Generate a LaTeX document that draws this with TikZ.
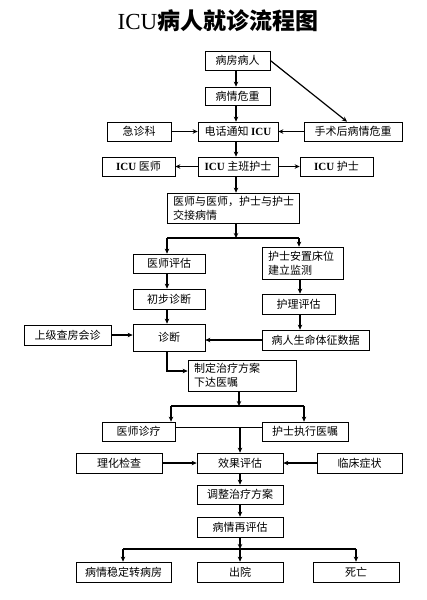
\documentclass[tikz,border=0pt]{standalone}
\usepackage{fontspec}
\setmainfont{Liberation Serif}
\newfontfamily\cjk{Noto Sans CJK SC}
\usetikzlibrary{arrows.meta}
\begin{document}
\begin{tikzpicture}[x=1pt,y=-1pt,
  bx/.style={draw,line width=0.7pt,inner sep=0pt,font=\cjk\fontsize{11}{14}\selectfont},
  bxl/.style={bx,align=left,inner xsep=6pt,text width=#1},
  arr/.style={line width=1.2pt,-{Stealth[length=5pt,width=4.5pt]}},
  ln/.style={line width=1.2pt},
  thinln/.style={line width=0.7pt}]
\useasboundingbox (0,0) rectangle (426,600);
\node[font=\fontsize{23}{27}\selectfont] (title) at (218,21) {ICU{\cjk\bfseries 病人就诊流程图}};

\node[bx,minimum width=65pt,minimum height=19pt] (n1) at (237.5,60.5) {病房病人};
\node[bx,minimum width=65pt,minimum height=18pt] (n2) at (237.5,96) {病情危重};
\node[bx,minimum width=64pt,minimum height=19pt] (n3) at (139,131.5) {急诊科};
\node[bx,minimum width=80pt,minimum height=19pt] (n4) at (238,131.5) {电话通知 {\rmfamily\bfseries ICU}};
\node[bx,minimum width=98pt,minimum height=19pt] (n5) at (353,131.5) {手术后病情危重};
\node[bx,minimum width=73pt,minimum height=19pt] (n6) at (138.5,166.5) {{\rmfamily\bfseries ICU} 医师};
\node[bx,minimum width=80pt,minimum height=19pt] (n7) at (238,166.5) {{\rmfamily\bfseries ICU} 主班护士};
\node[bx,minimum width=73pt,minimum height=19pt] (n8) at (336.5,166.5) {{\rmfamily\bfseries ICU} 护士};
\node[bxl=120pt,minimum height=30pt] (n9) at (233,208) {医师与医师，护士与护士\\交接病情};
\node[bx,minimum width=72pt,minimum height=19pt] (n10) at (169,263.5) {医师评估};
\node[bxl=69pt,minimum height=32pt] (n11) at (302.5,263) {护士安置床位\\建立监测};
\node[bx,minimum width=72pt,minimum height=20pt] (n12) at (169,299) {初步诊断};
\node[bx,minimum width=73pt,minimum height=20pt] (n13) at (298.5,304) {护理评估};
\node[bx,minimum width=87pt,minimum height=20pt] (n14) at (67.5,335) {上级查房会诊};
\node[bx,minimum width=72pt,minimum height=27pt] (n15) at (169,337.5) {诊断};
\node[bx,minimum width=107pt,minimum height=20pt] (n16) at (315.5,340) {病人生命体征数据};
\node[bxl=96pt,minimum height=31pt] (n17) at (242,375.5) {制定治疗方案\\下达医嘱};
\node[bx,minimum width=73pt,minimum height=19pt] (n18) at (138.5,431.5) {医师诊疗};
\node[bx,minimum width=86pt,minimum height=19pt] (n19) at (305,431.5) {护士执行医嘱};
\node[bx,minimum width=86pt,minimum height=20pt] (n20) at (119,463) {理化检查};
\node[bx,minimum width=86pt,minimum height=20pt] (n21) at (240,463) {效果评估};
\node[bx,minimum width=85pt,minimum height=20pt] (n22) at (359.5,463) {临床症状};
\node[bx,minimum width=86pt,minimum height=19pt] (n23) at (240,494.5) {调整治疗方案};
\node[bx,minimum width=86pt,minimum height=20pt] (n24) at (240,527) {病情再评估};
\node[bx,minimum width=95pt,minimum height=20pt] (n25) at (123.5,572) {病情稳定转病房};
\node[bx,minimum width=86pt,minimum height=20pt] (n26) at (240,572) {出院};
\node[bx,minimum width=86pt,minimum height=20pt] (n27) at (356,572) {死亡};

% top section
\coordinate (cx) at (236,0);
\draw[arr] (n1.south -| cx) -- (n2.north -| cx);
\draw[arr] (n2.south -| cx) -- (n4.north -| cx);
\coordinate (d) at (347,0);
\draw[arr] (n1.east) -- (n5.north -| d);
\draw[arr] (n3) -- (n4);
\draw[arr] (n5) -- (n4);
\draw[arr] (n4.south -| cx) -- (n7.north -| cx);
\draw[arr] (n7) -- (n6);
\draw[arr] (n7) -- (n8);
\draw[arr] (n7.south -| cx) -- (n9.north -| cx);

% branch 1
\coordinate (b1) at (236,238);
\coordinate (b1l) at (167,238);
\coordinate (b1r) at (299,238);
\draw[arr] (n9.south -| b1) -- (b1);
\draw[ln] (b1l) -- (b1r);
\draw[arr] (b1l) -- (b1l |- n10.north);
\draw[arr] (b1r) -- (b1r |- n11.north);
\draw[arr] (n10.south -| b1l) -- (n12.north -| b1l);
\draw[arr] (n12.south -| b1l) -- (n15.north -| b1l);
\coordinate (c2) at (300,0);
\draw[arr] (n11.south -| c2) -- (n13.north -| c2);
\draw[arr] (n13.south -| c2) -- (n16.north -| c2);
\draw[arr] (n14) -- (n14 -| n15.west);
\draw[arr] (n16) -- (n16 -| n15.east);
\coordinate (c3) at (167,371);
\draw[arr] (n15.south -| c3) -- (c3) -- (n17.west |- c3);

% branch 2
\coordinate (b2) at (239,406);
\coordinate (b2l) at (171,406);
\coordinate (b2r) at (304,406);
\draw[arr] (n17.south -| b2) -- (b2);
\draw[ln] (b2l) -- (b2r);
\draw[arr] (b2l) -- (b2l |- n18.north);
\draw[arr] (b2r) -- (b2r |- n19.north);
\coordinate (m) at (240,427);
\draw[thinln] (n18.east |- m) -- (n19.west |- m);
\draw[arr] (m) -- (n21.north);
\draw[arr] (n20) -- (n21);
\draw[arr] (n22) -- (n21);
\draw[arr] (n21) -- (n23);
\draw[arr] (n23) -- (n24);

% branch 3
\coordinate (b3) at (240,549);
\coordinate (b3l) at (123,549);
\coordinate (b3r) at (356,549);
\draw[arr] (n24.south) -- (b3);
\draw[ln] (b3l) -- (b3r);
\draw[arr] (b3l) -- (b3l |- n25.north);
\draw[arr] (b3) -- (n26.north);
\draw[arr] (b3r) -- (b3r |- n27.north);
\end{tikzpicture}
\end{document}
